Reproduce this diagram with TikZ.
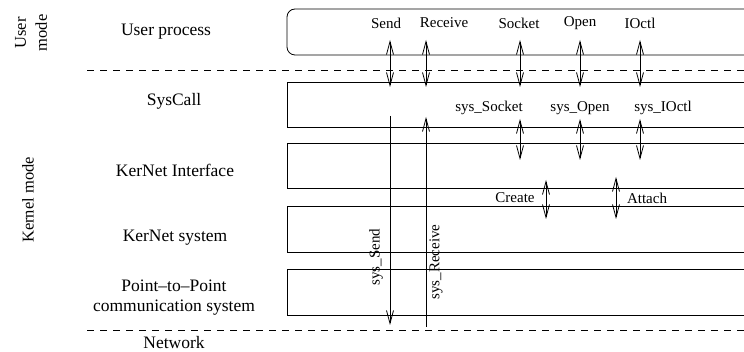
\documentclass[tikz,border=0pt]{standalone}
\usepackage{fontspec}
\setmainfont{Liberation Serif}
\usetikzlibrary{arrows.meta}
\begin{document}
\begin{tikzpicture}[x=1pt,y=-1pt, line width=0.8pt,
  lbl/.style={font=\fontsize{17.5}{20}\selectfont, align=center, inner sep=0},
  small/.style={font=\fontsize{15}{17}\selectfont, inner sep=0},
  modelbl/.style={font=\fontsize{16.5}{21}\selectfont, align=center, rotate=90, inner sep=0},
  barb/.tip={Straight Barb[length=13pt,width=7pt]},
  dbl/.style={barb-barb},
  sep/.style={dash pattern=on 7pt off 6pt}]
\useasboundingbox (0,0) rectangle (744,352);
\clip (0,0) rectangle (744,352);
% layers
\draw[rounded corners=8pt] (760,9) -- (287,9) -- (287,55) -- (760,55);
\draw (760,82) -- (287,82) -- (287,127) -- (760,127);
\draw (760,143) -- (287,143) -- (287,188) -- (760,188);
\draw (760,206) -- (287,206) -- (287,252) -- (760,252);
\draw (760,269) -- (287,269) -- (287,315) -- (760,315);
% separators
\draw[sep] (87,70) -- (744,70);
\draw[sep] (87,330) -- (744,330);
% left labels
\node[modelbl] (um) at (31,33) {User\\mode};
\node[modelbl] (km) at (28,200) {Kernel mode};
\node[lbl] (up) at (166,32) {User process};
\node[lbl] (sc) at (174,101) {SysCall};
\node[lbl] (ki) at (175,170) {KerNet Interface};
\node[lbl] (ks) at (175,238) {KerNet system};
\node[lbl] (pp) at (174,298) {Point--to--Point\\communication system};
\node[lbl] (nw) at (174,343) {Network};
% top labels
\node[small] (send) at (386,23) {Send};
\node[small] (recv) at (444,23) {Receive};
\node[small] (sock) at (519,23) {Socket};
\node[small] (open) at (580,23) {Open};
\node[small] (ioctl) at (640,23) {IOctl};
\node[small] (ssock) at (489,108) {sys\_Socket};
\node[small] (sopen) at (580,108) {sys\_Open};
\node[small] (sioctl) at (663,108) {sys\_IOctl};
\node[small] (create) at (515,198) {Create};
\node[small] (attach) at (647,198) {Attach};
\node[small, rotate=90] (ssend) at (376,257) {sys\_Send};
\node[small, rotate=90] (srecv) at (436,262) {sys\_Receive};
% coordinates
\foreach \n/\x in {a/390,b/426,c/520,d/580,e/640}{
  \coordinate (\n1) at (\x,40);
  \coordinate (\n2) at (\x,87);
}
\foreach \n/\x in {c/520,d/580,e/640}{
  \coordinate (\n3) at (\x,119);
  \coordinate (\n4) at (\x,160);
}
\coordinate (f1) at (546,180);
\coordinate (f2) at (546,219);
\coordinate (g1) at (616,177);
\coordinate (g2) at (616,219);
\coordinate (s1) at (390,116);
\coordinate (s2) at (390,325);
\coordinate (r1) at (426,327);
\coordinate (r2) at (426,117);
% arrows
\foreach \n in {a,b,c,d,e}{ \draw[dbl] (\n1) -- (\n2); }
\foreach \n in {c,d,e}{ \draw[dbl] (\n3) -- (\n4); }
\draw[dbl] (f1) -- (f2);
\draw[dbl] (g1) -- (g2);
\draw[-barb] (s1) -- (s2);
\draw[-barb] (r1) -- (r2);
\end{tikzpicture}
\end{document}
